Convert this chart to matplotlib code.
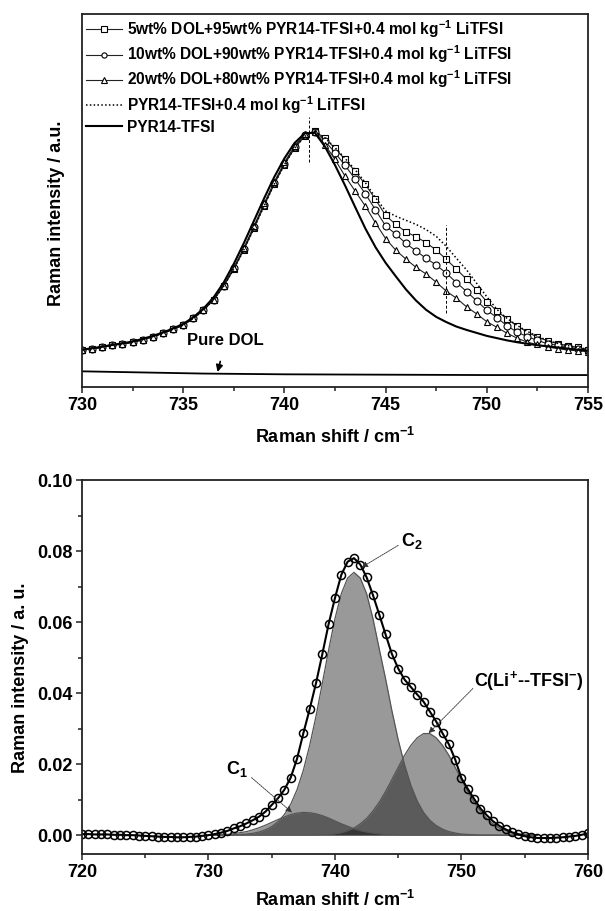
import numpy as np
import matplotlib
matplotlib.use('Agg')
import matplotlib.pyplot as plt
from matplotlib.ticker import MultipleLocator, FormatStrFormatter

plt.rcParams['font.family'] = ['Liberation Sans', 'DejaVu Sans']
plt.rcParams['font.weight'] = 'bold'
plt.rcParams['axes.labelweight'] = 'bold'
plt.rcParams['mathtext.fontset'] = 'custom'
plt.rcParams['mathtext.rm'] = 'Liberation Sans:bold'
plt.rcParams['mathtext.bf'] = 'Liberation Sans:bold'
plt.rcParams['mathtext.default'] = 'bf'

# ---- top panel: Raman spectra (a.u.), 730-755 cm-1 every 0.5 ----
shift_top = np.arange(730.0, 755.01, 0.5)

dol5 = [0.099, 0.103, 0.107, 0.112, 0.116, 0.120, 0.127, 0.135, 0.144, 0.155,
        0.166, 0.184, 0.206, 0.234, 0.270, 0.316, 0.368, 0.426, 0.486, 0.544,
        0.596, 0.640, 0.672, 0.686,
        0.667, 0.640, 0.610, 0.578, 0.543, 0.503, 0.460, 0.436, 0.416, 0.403,
        0.387, 0.367, 0.342, 0.316, 0.289, 0.260, 0.229, 0.204, 0.182, 0.164,
        0.147, 0.134, 0.124, 0.116, 0.111, 0.106, 0.100]
dol10 = [0.099, 0.103, 0.107, 0.112, 0.116, 0.120, 0.127, 0.135, 0.144, 0.155,
         0.166, 0.184, 0.206, 0.234, 0.271, 0.318, 0.371, 0.429, 0.489, 0.547,
         0.599, 0.643, 0.675, 0.685,
         0.660, 0.628, 0.594, 0.557, 0.518, 0.475, 0.432, 0.410, 0.385, 0.365,
         0.345, 0.327, 0.305, 0.280, 0.256, 0.231, 0.206, 0.186, 0.164, 0.147,
         0.135, 0.125, 0.116, 0.112, 0.107, 0.103, 0.098]
dol20 = [0.099, 0.103, 0.107, 0.112, 0.116, 0.120, 0.127, 0.135, 0.144, 0.155,
         0.166, 0.184, 0.206, 0.234, 0.272, 0.320, 0.373, 0.432, 0.492, 0.550,
         0.602, 0.646, 0.678, 0.684,
         0.650, 0.610, 0.565, 0.525, 0.485, 0.440, 0.398, 0.367, 0.343, 0.321,
         0.303, 0.281, 0.257, 0.238, 0.215, 0.196, 0.175, 0.160, 0.144, 0.131,
         0.120, 0.114, 0.107, 0.103, 0.099, 0.097, 0.095]
il_li = [0.099, 0.103, 0.107, 0.112, 0.116, 0.120, 0.127, 0.135, 0.144, 0.155,
         0.166, 0.184, 0.206, 0.234, 0.270, 0.316, 0.368, 0.426, 0.486, 0.544,
         0.596, 0.640, 0.672, 0.686,
         0.668, 0.642, 0.613, 0.582, 0.548, 0.508, 0.472, 0.458, 0.447, 0.436,
         0.422, 0.404, 0.377, 0.345, 0.314, 0.278, 0.242, 0.208, 0.184, 0.165,
         0.149, 0.136, 0.125, 0.117, 0.111, 0.106, 0.101]
il_pure = [0.100, 0.104, 0.108, 0.113, 0.117, 0.122, 0.129, 0.137, 0.146, 0.157,
           0.169, 0.187, 0.210, 0.240, 0.280, 0.330, 0.386, 0.446, 0.506, 0.563,
           0.613, 0.654, 0.680, 0.682,
           0.645, 0.595, 0.540, 0.482, 0.425, 0.375, 0.333, 0.297, 0.262, 0.232,
           0.207, 0.188, 0.174, 0.162, 0.153, 0.145, 0.137, 0.131, 0.125, 0.120,
           0.116, 0.112, 0.109, 0.106, 0.103, 0.100, 0.097]
dol_shift = [730, 732, 734, 736, 738, 740, 745, 750, 755]
dol_pure = [0.042, 0.040, 0.038, 0.036, 0.035, 0.034, 0.033, 0.032, 0.032]

labels_top = ['5wt% DOL+95wt% PYR14-TFSI+0.4 mol kg$^{-1}$ LiTFSI',
              '10wt% DOL+90wt% PYR14-TFSI+0.4 mol kg$^{-1}$ LiTFSI',
              '20wt% DOL+80wt% PYR14-TFSI+0.4 mol kg$^{-1}$ LiTFSI',
              'PYR14-TFSI+0.4 mol kg$^{-1}$ LiTFSI',
              'PYR14-TFSI']

# ---- bottom panel: fitted spectrum, 720-760 cm-1 every 0.5 ----
shift_bot = np.arange(720.0, 760.01, 0.5)
measured = [0.0003, 0.0003, 0.0002, 0.0002, 0.0002, 0.0001, 0.0001, 0.0000,
            0.0000, -0.0001, -0.0002, -0.0003, -0.0004, -0.0005, -0.0005,
            -0.0006, -0.0006, -0.0005, -0.0004, -0.0002, 0.0000, 0.0003,
            0.0007, 0.0012, 0.0019, 0.0025, 0.0033, 0.0042, 0.0052, 0.0066,
            0.0085, 0.0104, 0.0128, 0.0162, 0.0215, 0.0287, 0.0355, 0.0428,
            0.0510, 0.0595, 0.0668, 0.0733, 0.0770, 0.0780, 0.0762, 0.0726,
            0.0676, 0.0621, 0.0565, 0.0510, 0.0469, 0.0438, 0.0417, 0.0396,
            0.0376, 0.0348, 0.0320, 0.0287, 0.0256, 0.0213, 0.0160, 0.0130,
            0.0102, 0.0075, 0.0056, 0.0039, 0.0026, 0.0016, 0.0008, 0.0002,
            -0.0003, -0.0006, -0.0008, -0.0008, -0.0008, -0.0007, -0.0006,
            -0.0004, -0.0002, 0.0001, 0.0005]

comp_shift = np.arange(730.0, 756.01, 0.5)
c1 = [0.0, 0.0, 0.0001, 0.0002, 0.0004, 0.0007, 0.0010, 0.0015, 0.0021, 0.0028,
      0.0036, 0.0044, 0.0051, 0.0058, 0.0062, 0.0064, 0.0063, 0.0060, 0.0055,
      0.0048, 0.0040, 0.0032, 0.0025, 0.0018, 0.0013, 0.0009, 0.0006, 0.0004,
      0.0002, 0.0001, 0.0, 0.0, 0.0, 0.0, 0.0, 0.0, 0.0, 0.0, 0.0, 0.0, 0.0,
      0.0, 0.0, 0.0, 0.0, 0.0, 0.0, 0.0, 0.0, 0.0, 0.0, 0.0, 0.0]
c2 = [0.0, 0.0, 0.0, 0.0, 0.0001, 0.0002, 0.0003, 0.0005, 0.0009, 0.0015,
      0.0024, 0.0038, 0.0058, 0.0087, 0.0128, 0.0183, 0.0253, 0.0335, 0.0428,
      0.0522, 0.0610, 0.0680, 0.0724, 0.0740, 0.0724, 0.0680, 0.0610, 0.0524,
      0.0440, 0.0350, 0.0268, 0.0198, 0.0140, 0.0096, 0.0064, 0.0042, 0.0027,
      0.0017, 0.0010, 0.0006, 0.0003, 0.0002, 0.0001, 0.0, 0.0, 0.0, 0.0, 0.0,
      0.0, 0.0, 0.0, 0.0, 0.0]
c3 = [0.0, 0.0, 0.0, 0.0, 0.0, 0.0, 0.0, 0.0, 0.0, 0.0, 0.0, 0.0, 0.0, 0.0,
      0.0, 0.0, 0.0, 0.0, 0.0001, 0.0002, 0.0004, 0.0007, 0.0013, 0.0020,
      0.0032, 0.0047, 0.0068, 0.0093, 0.0123, 0.0157, 0.0191, 0.0225, 0.0253,
      0.0274, 0.0286, 0.0286, 0.0274, 0.0253, 0.0225, 0.0191, 0.0157, 0.0123,
      0.0093, 0.0068, 0.0047, 0.0032, 0.0020, 0.0013, 0.0007, 0.0004, 0.0002,
      0.0001, 0.0]

fig = plt.figure(figsize=(6.05, 9.11), dpi=100)
ax1 = fig.add_axes([0.1355, 0.5752, 0.8364, 0.4094])
ax2 = fig.add_axes([0.1355, 0.0626, 0.8364, 0.4105])

for ax in (ax1, ax2):
    for s in ax.spines.values():
        s.set_linewidth(1.3)
        s.set_color('#222222')
    ax.tick_params(which='both', direction='out', width=1.1, labelsize=13,
                   top=False, right=False, pad=3, color='#222222')
    ax.tick_params(which='major', length=4)
    ax.tick_params(which='minor', length=3)

# top panel
mk = dict(color='#222222', lw=0.8, mfc='white', mec='black', mew=0.8, ms=5)
ax1.plot(shift_top, dol5, marker='s', label=labels_top[0], **mk)
ax1.plot(shift_top, dol10, marker='o', label=labels_top[1], **mk)
ax1.plot(shift_top, dol20, marker='^', label=labels_top[2], **mk)
ax1.plot(shift_top, il_li, color='black', ls=(0, (1, 1.5)), lw=1.1,
         label=labels_top[3])
ax1.plot(shift_top, il_pure, color='black', lw=1.5, label=labels_top[4])
ax1.plot(dol_shift, dol_pure, color='black', lw=1.3)
ax1.vlines([741.2], 0.603, 0.724, colors='black', linestyles=(0, (3, 2)), lw=0.7)
ax1.vlines([748.0], 0.198, 0.434, colors='black', linestyles=(0, (3, 2)), lw=0.7)
ax1.annotate('Pure DOL', xy=(736.7, 0.040), xytext=(737.1, 0.125),
             ha='center', va='center', fontsize=12,
             arrowprops=dict(arrowstyle='-|>', color='black', lw=1.2,
                             mutation_scale=10, shrinkA=8, shrinkB=0))
ax1.set_xlim(730, 755)
ax1.set_ylim(0, 1)
ax1.set_yticks([])
ax1.xaxis.set_major_locator(MultipleLocator(5))
ax1.xaxis.set_minor_locator(MultipleLocator(2.5))
ax1.set_xlabel('Raman shift / cm$^{-1}$', fontsize=13)
ax1.xaxis.set_label_coords(0.5, -0.134)
ax1.xaxis.label.set_va('center')
ax1.set_ylabel('Raman intensity / a.u.', fontsize=13)
ax1.yaxis.set_label_coords(-0.051, 0.466)
ax1.yaxis.label.set_va('center')
ax1.legend(loc='upper left', frameon=False, fontsize=11.2, numpoints=1,
           handlelength=2.35, handletextpad=0.3, labelspacing=0.24,
           borderpad=0.25, borderaxespad=0.0, markerscale=0.75)

# bottom panel
fills = dict(color='black', alpha=0.4, lw=0)
for comp in (c1, c2, c3):
    ax2.fill_between(comp_shift, 0, comp, **fills)
    ax2.plot(comp_shift, comp, color='#555555', lw=0.9)
ax2.plot(shift_bot, measured, color='black', lw=1.5, marker='o', mfc='none',
         mec='black', mew=1.1, ms=5.8)

arrow = dict(arrowstyle='-|>', color='#333333', lw=0.6, mutation_scale=9,
             shrinkA=0, shrinkB=0, linestyle=(0, (2, 1)))
ax2.annotate('', xy=(742.1, 0.0754), xytext=(745.0, 0.0816), arrowprops=arrow)
ax2.text(745.2, 0.0827, 'C$_2$', fontsize=13, ha='left', va='center')
ax2.annotate('', xy=(747.4, 0.0287), xytext=(750.9, 0.0413), arrowprops=arrow)
ax2.text(751.0, 0.0434, 'C(Li$^{+}$--TFSI$^{-}$)', fontsize=13, ha='left',
         va='center')
ax2.annotate('', xy=(736.6, 0.0064), xytext=(733.4, 0.0162), arrowprops=arrow)
ax2.text(731.4, 0.0185, 'C$_1$', fontsize=13, ha='left', va='center')

ax2.set_xlim(720, 760)
ax2.set_ylim(-0.0053, 0.10)
ax2.xaxis.set_major_locator(MultipleLocator(10))
ax2.xaxis.set_minor_locator(MultipleLocator(5))
ax2.yaxis.set_major_locator(MultipleLocator(0.02))
ax2.yaxis.set_minor_locator(MultipleLocator(0.01))
ax2.yaxis.set_major_formatter(FormatStrFormatter('%.2f'))
ax2.set_xlabel('Raman shift / cm$^{-1}$', fontsize=13)
ax2.xaxis.set_label_coords(0.5, -0.123)
ax2.xaxis.label.set_va('center')
ax2.set_ylabel('Raman intensity / a. u.', fontsize=13)
ax2.yaxis.set_label_coords(-0.1206, 0.47)
ax2.yaxis.label.set_va('center')

fig.savefig('out.png', dpi=100)
